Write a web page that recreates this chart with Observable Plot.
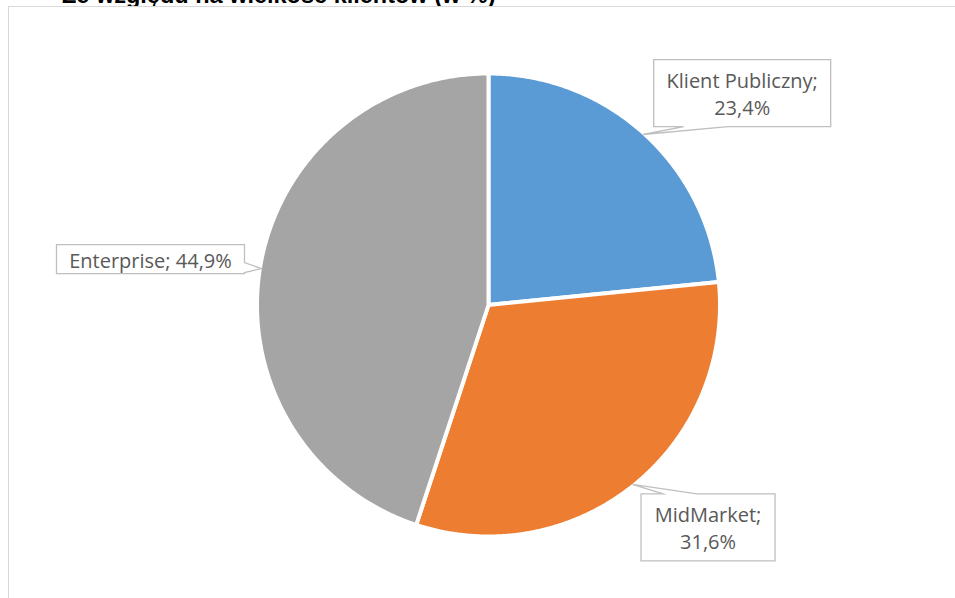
<!DOCTYPE html>
<html><head><meta charset="utf-8">
<script src="https://cdn.jsdelivr.net/npm/d3@7"></script>
<script src="https://cdn.jsdelivr.net/npm/@observablehq/plot@0.6"></script>
<style>
body{margin:0;background:#fff;}
#wrap{position:relative;width:955px;height:598px;overflow:hidden;}
#title{position:absolute;left:62px;top:-16px;font:bold 23.5px "Liberation Sans",Arial,sans-serif;line-height:23.5px;color:#000;white-space:nowrap;z-index:0;}
#frame{position:absolute;left:8px;top:6px;width:960px;height:700px;border-left:1px solid #D9D9D9;border-top:1px solid #D9D9D9;background:#fff;z-index:1;}
#chart{position:absolute;left:0;top:0;z-index:2;}
</style></head><body>
<div id="wrap"><div id="title">Ze względu na wielkość klientów (w %)</div><div id="frame"></div><div id="chart"></div></div>
<script>
// ---- data ----
const categories = ["Klient Publiczny", "MidMarket", "Enterprise"];
const values = [23.4, 31.6, 44.9];
const colors = ["#5B9BD5", "#ED7D31", "#A5A5A5"];

// ---- layout (pixels) ----
const W = 955, H = 598, CX = 488, CY = 304.5, R = 231.5, EDGE = 230;
// callout box: center offset from slice tip, size, wedge side and wedge span (relative to box center)
const calloutLayout = [
  {dx: 99.3, dy: -41.4, w: 177, h: 67, side: "bottom", a: -58.5, b: -14.5, wrap: true},
  {dx: 75.6, dy: 42.9, w: 134, h: 67, side: "top", a: -45, b: -11, wrap: true},
  {dx: -110.9, dy: -9.6, w: 188, h: 29, side: "right", a: 3.5, b: 13.5, wrap: false}
];

const data = categories.map((c, i) => ({name: c, value: values[i]}));
const arcs = d3.pie().sort(null).value(d => d.value)(data);

// slice polygons in unit coordinates (y up)
const slicePts = [];
const step = Math.PI / 360;
for (const s of arcs) {
  const name = s.data.name;
  slicePts.push({name, x: 0, y: 0});
  for (let a = s.startAngle; a < s.endAngle; a += step) slicePts.push({name, x: Math.sin(a), y: Math.cos(a)});
  slicePts.push({name, x: Math.sin(s.endAngle), y: Math.cos(s.endAngle)});
  slicePts.push({name, x: 0, y: 0});
}

// callouts
const toU = (px, py) => ({x: (px - CX) / R, y: (CY - py) / R});
const calloutPts = [];
const labels = [];
arcs.forEach((s, i) => {
  const L = calloutLayout[i];
  const name = s.data.name;
  const mid = (s.startAngle + s.endAngle) / 2;
  const tx = CX + EDGE * Math.sin(mid), ty = CY - EDGE * Math.cos(mid);
  const cx = tx + L.dx, cy = ty + L.dy;
  const x0 = cx - L.w / 2, x1 = cx + L.w / 2, y0 = cy - L.h / 2, y1 = cy + L.h / 2;
  let pts;
  if (L.side === "bottom") pts = [[x0, y0], [x1, y0], [x1, y1], [cx + L.b, y1], [tx, ty], [cx + L.a, y1], [x0, y1], [x0, y0]];
  else if (L.side === "top") pts = [[x0, y0], [cx + L.a, y0], [tx, ty], [cx + L.b, y0], [x1, y0], [x1, y1], [x0, y1], [x0, y0]];
  else pts = [[x0, y0], [x1, y0], [x1, cy + L.a], [tx, ty], [x1, cy + L.b], [x1, y1], [x0, y1], [x0, y0]];
  pts.forEach(([px, py]) => calloutPts.push({name, ...toU(px, py)}));
  const pct = s.data.value.toFixed(1).replace(".", ",") + "%";
  labels.push({...toU(cx, cy), text: name + ";" + (L.wrap ? "\n" : " ") + pct});
});

const chart = Plot.plot({
  width: W, height: H,
  marginLeft: CX - R, marginRight: W - CX - R, marginTop: CY - R, marginBottom: H - CY - R,
  x: {domain: [-1, 1], axis: null},
  y: {domain: [-1, 1], axis: null},
  color: {domain: categories, range: colors},
  style: {background: "transparent"},
  marks: [
    Plot.line(slicePts, {x: "x", y: "y", z: "name", fill: "name", stroke: "white", strokeWidth: 4, strokeLinejoin: "round"}),
    Plot.line(calloutPts, {x: "x", y: "y", z: "name", fill: "white", stroke: "#BFBFBF", strokeWidth: 1.3, strokeLinejoin: "miter", strokeMiterlimit: 10}),
    Plot.text(labels, {x: "x", y: "y", text: "text", fill: "#595959", fontSize: 20, fontFamily: "'Open Sans', sans-serif", lineHeight: 1.35})
  ]
});
document.getElementById("chart").appendChild(chart);
</script>
</body></html>
